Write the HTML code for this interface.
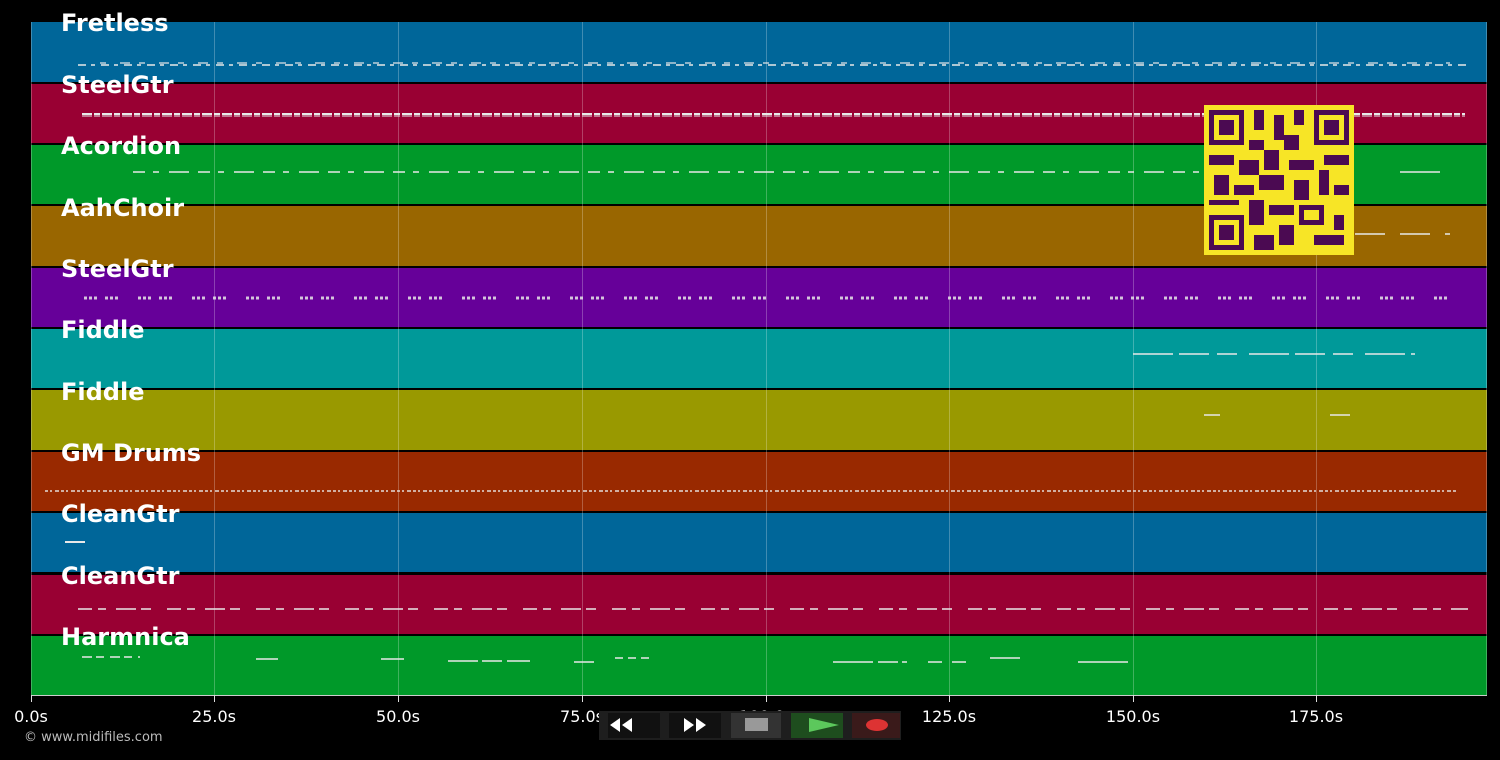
<!DOCTYPE html>
<html><head><meta charset="utf-8"><style>
body{margin:0;background:#000;width:1500px;height:756px;overflow:hidden;font-family:"DejaVu Sans","Liberation Sans",sans-serif}
</style></head><body>
<svg width="1500" height="756" xmlns="http://www.w3.org/2000/svg" font-family="DejaVu Sans, Liberation Sans, sans-serif">
<rect width="1500" height="756" fill="#000"/>
<g>
<rect x="31" y="22" width="1456" height="60" fill="#006699"/>
<rect x="31" y="84" width="1456" height="59" fill="#990033"/>
<rect x="31" y="145" width="1456" height="59" fill="#009929"/>
<rect x="31" y="206" width="1456" height="60" fill="#996600"/>
<rect x="31" y="268" width="1456" height="59" fill="#660099"/>
<rect x="31" y="329" width="1456" height="59" fill="#009999"/>
<rect x="31" y="390" width="1456" height="60" fill="#999900"/>
<rect x="31" y="452" width="1456" height="59" fill="#992900"/>
<rect x="31" y="513" width="1456" height="59" fill="#006699"/>
<rect x="31" y="575" width="1456" height="59" fill="#990033"/>
<rect x="31" y="636" width="1456" height="59" fill="#009929"/>
</g>
<g stroke="#ffffff" stroke-opacity="0.25" stroke-width="1">
<line x1="31.5" y1="22" x2="31.5" y2="695"/><line x1="214.5" y1="22" x2="214.5" y2="695"/>
<line x1="398.5" y1="22" x2="398.5" y2="695"/><line x1="582.5" y1="22" x2="582.5" y2="695"/>
<line x1="766.5" y1="22" x2="766.5" y2="695"/><line x1="949.5" y1="22" x2="949.5" y2="695"/>
<line x1="1133.5" y1="22" x2="1133.5" y2="695"/><line x1="1316.5" y1="22" x2="1316.5" y2="695"/>
<line x1="1486.5" y1="22" x2="1486.5" y2="695"/>
</g>
<g stroke="#e8e8e8" stroke-width="1.5" fill="none">
<line x1="78" y1="65" x2="1470" y2="65" stroke-dasharray="8 5 4 6"/>
<line x1="100" y1="63" x2="1450" y2="63" stroke-dasharray="6 14 10 9" stroke-opacity="0.8"/>
<line x1="82" y1="114" x2="1465" y2="114" stroke-width="2" stroke-dasharray="10 2 6 2"/>
<line x1="82" y1="116" x2="1465" y2="116" stroke-width="1" stroke-dasharray="10 2 6 2"/>
<line x1="133" y1="172" x2="1205" y2="172" stroke-dasharray="12 8 6 10 20 9"/>
<line x1="1400" y1="172" x2="1440" y2="172"/>
<line x1="1355" y1="234" x2="1450" y2="234" stroke-dasharray="30 15"/>
<line x1="84" y1="298" x2="1455" y2="298" stroke-width="3" stroke-dasharray="3 2 3 2 3 8 3 2 3 2 3 20" stroke-opacity="0.85"/>
<line x1="1133" y1="354" x2="1415" y2="354" stroke-dasharray="40 6 30 8 20 12"/>
<line x1="1204" y1="415" x2="1220" y2="415"/><line x1="1330" y1="415" x2="1350" y2="415"/>
<line x1="45" y1="491" x2="1457" y2="491" stroke-width="2" stroke-dasharray="3 2 2 3 4 2" stroke-opacity="0.7"/>
<line x1="65" y1="542" x2="85" y2="542" stroke-width="2"/>
<line x1="78" y1="609" x2="1468" y2="609" stroke-dasharray="14 6 8 10 20 5 10 16"/>
<line x1="82" y1="657" x2="140" y2="657" stroke-dasharray="10 4 8 6"/>
<line x1="256" y1="659" x2="278" y2="659"/><line x1="381" y1="659" x2="404" y2="659"/>
<line x1="448" y1="661" x2="530" y2="661" stroke-dasharray="30 4 20 5"/>
<line x1="574" y1="662" x2="594" y2="662"/><line x1="615" y1="658" x2="652" y2="658" stroke-dasharray="8 5"/>
<line x1="833" y1="662" x2="907" y2="662" stroke-dasharray="40 5 20 4"/>
<line x1="928" y1="662" x2="970" y2="662" stroke-dasharray="14 10"/>
<line x1="990" y1="658" x2="1020" y2="658"/><line x1="1078" y1="662" x2="1128" y2="662"/>
</g>
<g>
<rect x="1204" y="105" width="150" height="150" fill="#f7e526"/>
<g fill="#4b0a52">
<rect x="1209" y="110" width="35" height="35"/><rect x="1314" y="110" width="35" height="35"/><rect x="1209" y="215" width="35" height="35"/>
<g fill="#f7e526"><rect x="1214" y="115" width="25" height="25"/><rect x="1319" y="115" width="25" height="25"/><rect x="1214" y="220" width="25" height="25"/></g>
<rect x="1219" y="120" width="15" height="15"/><rect x="1324" y="120" width="15" height="15"/><rect x="1219" y="225" width="15" height="15"/>
<rect x="1254" y="110" width="10" height="20"/><rect x="1274" y="115" width="10" height="25"/><rect x="1294" y="110" width="10" height="15"/>
<rect x="1249" y="140" width="15" height="10"/><rect x="1284" y="135" width="15" height="15"/>
<rect x="1209" y="155" width="25" height="10"/><rect x="1239" y="160" width="20" height="15"/><rect x="1264" y="150" width="15" height="20"/>
<rect x="1289" y="160" width="25" height="10"/><rect x="1324" y="155" width="25" height="10"/>
<rect x="1214" y="175" width="15" height="20"/><rect x="1234" y="185" width="20" height="10"/><rect x="1259" y="175" width="25" height="15"/>
<rect x="1294" y="180" width="15" height="20"/><rect x="1319" y="170" width="10" height="25"/><rect x="1334" y="185" width="15" height="10"/>
<rect x="1249" y="200" width="15" height="25"/><rect x="1269" y="205" width="25" height="10"/><rect x="1299" y="205" width="25" height="20"/>
<rect x="1254" y="235" width="20" height="15"/><rect x="1279" y="225" width="15" height="20"/><rect x="1314" y="235" width="30" height="10"/>
<rect x="1334" y="215" width="10" height="15"/><rect x="1209" y="200" width="30" height="5"/>
</g>
<rect x="1304" y="210" width="15" height="10" fill="#f7e526"/>
</g>
<g fill="#fff" font-weight="bold" font-size="24">
<text x="61" y="31">Fretless</text><text x="61" y="93">SteelGtr</text><text x="61" y="154">Acordion</text>
<text x="61" y="216">AahChoir</text><text x="61" y="277">SteelGtr</text><text x="61" y="338">Fiddle</text>
<text x="61" y="400">Fiddle</text><text x="61" y="461">GM Drums</text><text x="61" y="522">CleanGtr</text>
<text x="61" y="584">CleanGtr</text><text x="61" y="645">Harmnica</text>
</g>
<line x1="31" y1="695.5" x2="1487" y2="695.5" stroke="#ccc"/>
<g stroke="#ddd"><line x1="31.5" y1="695" x2="31.5" y2="702"/><line x1="214.5" y1="695" x2="214.5" y2="702"/><line x1="398.5" y1="695" x2="398.5" y2="702"/><line x1="582.5" y1="695" x2="582.5" y2="702"/><line x1="766.5" y1="695" x2="766.5" y2="702"/><line x1="949.5" y1="695" x2="949.5" y2="702"/><line x1="1133.5" y1="695" x2="1133.5" y2="702"/><line x1="1316.5" y1="695" x2="1316.5" y2="702"/></g>
<g fill="#fff" font-size="16" text-anchor="middle">
<text x="31" y="722">0.0s</text><text x="214" y="722">25.0s</text><text x="398" y="722">50.0s</text><text x="582" y="722">75.0s</text>
<text x="766" y="722">100.0s</text><text x="949" y="722">125.0s</text><text x="1133" y="722">150.0s</text><text x="1316" y="722">175.0s</text>
</g>
<text x="24" y="741" fill="#bbb" font-size="13">© www.midifiles.com</text>
<g>
<rect x="599" y="711" width="302" height="29" fill="#1e1e1e"/>
<rect x="608" y="713" width="52" height="25" fill="#111"/>
<rect x="669" y="713" width="52" height="25" fill="#111"/>
<rect x="731" y="713" width="50" height="25" fill="#333"/>
<rect x="791" y="713" width="52" height="25" fill="#1e4d1e"/>
<rect x="852" y="713" width="48" height="25" fill="#3a1a1a"/>
<path d="M610 725 l10 -7 v14z M622 725 l10 -7 v14z" fill="#fff"/>
<path d="M706 725 l-10 -7 v14z M694 725 l-10 -7 v14z" fill="#fff"/>
<rect x="745" y="718" width="23" height="13" fill="#999"/>
<path d="M809 718 l30 7 -30 7z" fill="#5cc85c"/>
<ellipse cx="877" cy="725" rx="11" ry="6" fill="#dd3333"/>
</g>
</svg>
</body></html>
